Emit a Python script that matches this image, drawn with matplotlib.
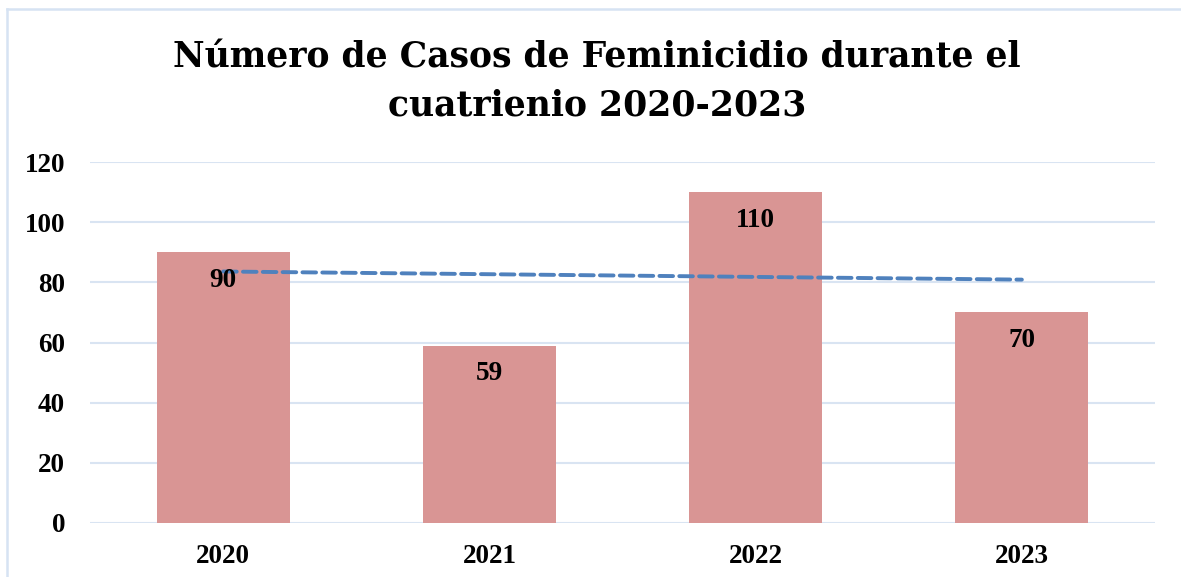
import matplotlib
matplotlib.use("Agg")
import matplotlib.pyplot as plt
import numpy as np
from matplotlib.lines import Line2D

years = ["2020", "2021", "2022", "2023"]
cases = [90, 59, 110, 70]
yticks = [0, 20, 40, 60, 80, 100, 120]
title_lines = ["Número de Casos de Feminicidio durante el", "cuatrienio 2020-2023"]

W, H = 1181, 577
fig = plt.figure(figsize=(W / 100, H / 100), dpi=100)
fig.patch.set_facecolor("white")

serif = "Liberation Serif"
ax = fig.add_axes([90 / W, 1 - 523 / H, (1155 - 90) / W, (523 - 162) / H])
x = np.arange(len(years))
ax.bar(x, cases, width=0.5, color="#D99594", zorder=2)
ax.set_xlim(-0.5, 3.5)
ax.set_ylim(0, 120)
ax.set_yticks(yticks)
ax.set_xticks(x)
ax.set_xticklabels(years)
for s in ax.spines.values():
    s.set_visible(False)
ax.grid(axis="y", color="#D9E4F2", linewidth=1.5, zorder=0)
ax.tick_params(axis="both", length=0)
ax.tick_params(axis="y", pad=18)
ax.tick_params(axis="x", pad=15)
for lab in ax.get_xticklabels() + ax.get_yticklabels():
    lab.set_fontfamily(serif)
    lab.set_fontweight("bold")
    lab.set_fontsize(19.5)

for xi, v in zip(x, cases):
    ax.annotate(str(v), (xi, v), xytext=(0, -20.5), textcoords="offset points",
                ha="center", va="center", fontsize=19.5, fontweight="bold",
                fontfamily=serif, zorder=4)

# linear trendline
coef = np.polyfit(x, cases, 1)
xt = np.array([x[0], x[-1]])
ax.plot(xt, np.polyval(coef, xt), linestyle=(0, (3.5, 1.6)), color="#4F81BD",
        linewidth=2.8, zorder=3, dash_capstyle="round")

for i, line in enumerate(title_lines):
    fig.text(597 / W, 1 - (58 + 48 * i) / H, line, ha="center", va="center",
             fontsize=24.9, fontweight="bold", fontfamily="DejaVu Serif")

# chart border (top and left visible)
fig.add_artist(Line2D([7 / W, 1.0], [1 - 8.5 / H, 1 - 8.5 / H], color="#D6E3F3",
                      linewidth=1.8, transform=fig.transFigure))
fig.add_artist(Line2D([7 / W, 7 / W], [0, 1 - 8.5 / H], color="#D6E3F3",
                      linewidth=1.8, transform=fig.transFigure))

fig.savefig("out.png", dpi=100)
